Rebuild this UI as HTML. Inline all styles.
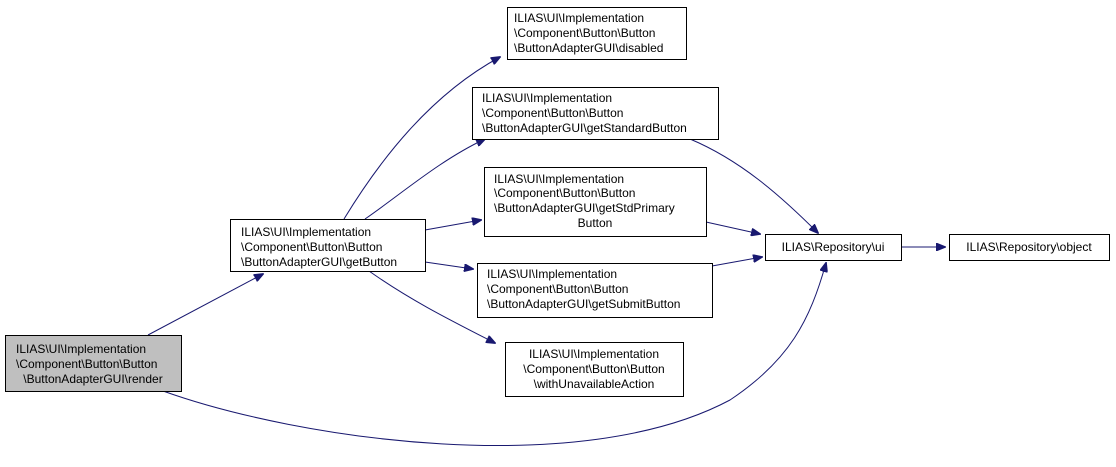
<!DOCTYPE html>
<html><head><meta charset="utf-8"><style>
body{margin:0;background:#fff;width:1116px;height:462px;overflow:hidden}
text{font-family:"Liberation Sans",sans-serif;font-size:12px;fill:#000}
</style></head><body>
<svg width="1116" height="462" viewBox="0 0 1116 462" xmlns="http://www.w3.org/2000/svg">
<defs><marker id="a" markerWidth="10" markerHeight="8" refX="9" refY="4" orient="auto" markerUnits="userSpaceOnUse"><path d="M0,0 L10,4 L0,8 z" fill="#191970" stroke="#191970"/></marker></defs>
<g fill="none" stroke="#191970" stroke-width="1" marker-end="url(#a)">
<path d="M148,335 L263,274"/>
<path d="M163,391 C300,440 580,480 730,400 C790,360 810,320 826,263"/>
<path d="M344,219 C380,160 430,95 500,57"/>
<path d="M365,219 C400,195 440,160 485,139"/>
<path d="M425,230 L481,220"/>
<path d="M425,262 L473,269"/>
<path d="M369,271 C410,300 450,320 495,343"/>
<path d="M690,139 C740,160 780,195 818,233"/>
<path d="M706,222 L760,234"/>
<path d="M712,266 L762,257"/>
<path d="M901,247 L945,247"/>
</g>
<g stroke="#000" stroke-width="1">
<rect x="5.5" y="335.5" width="176" height="56" fill="#bfbfbf"/>
<rect x="230.5" y="219.5" width="195" height="52" fill="#fff"/>
<rect x="507.5" y="7.5" width="179" height="52" fill="#fff"/>
<rect x="472.5" y="87.5" width="246" height="52" fill="#fff"/>
<rect x="484.5" y="167.5" width="222" height="69" fill="#fff"/>
<rect x="477.5" y="263.5" width="235" height="54" fill="#fff"/>
<rect x="505.5" y="342.5" width="178" height="54" fill="#fff"/>
<rect x="765.5" y="234.5" width="136" height="26" fill="#fff"/>
<rect x="949.5" y="234.5" width="160" height="26" fill="#fff"/>
</g>
<text x="16" y="353">ILIAS\UI\Implementation</text>
<text x="16" y="368">\Component\Button\Button</text>
<text x="93" y="383" text-anchor="middle">\ButtonAdapterGUI\render</text>
<text x="241" y="236">ILIAS\UI\Implementation</text>
<text x="241" y="251">\Component\Button\Button</text>
<text x="241" y="266">\ButtonAdapterGUI\getButton</text>
<text x="514" y="22">ILIAS\UI\Implementation</text>
<text x="514" y="37">\Component\Button\Button</text>
<text x="514" y="52">\ButtonAdapterGUI\disabled</text>
<text x="482" y="102">ILIAS\UI\Implementation</text>
<text x="482" y="117">\Component\Button\Button</text>
<text x="482" y="132">\ButtonAdapterGUI\getStandardButton</text>
<text x="494" y="183">ILIAS\UI\Implementation</text>
<text x="494" y="197">\Component\Button\Button</text>
<text x="494" y="212">\ButtonAdapterGUI\getStdPrimary</text>
<text x="595" y="227" text-anchor="middle">Button</text>
<text x="487" y="278">ILIAS\UI\Implementation</text>
<text x="487" y="293">\Component\Button\Button</text>
<text x="487" y="308">\ButtonAdapterGUI\getSubmitButton</text>
<text x="594" y="358" text-anchor="middle">ILIAS\UI\Implementation</text>
<text x="594" y="373" text-anchor="middle">\Component\Button\Button</text>
<text x="594" y="388" text-anchor="middle">\withUnavailableAction</text>
<text x="833" y="251" text-anchor="middle">ILIAS\Repository\ui</text>
<text x="1029" y="251" text-anchor="middle">ILIAS\Repository\object</text>
</svg>
</body></html>
